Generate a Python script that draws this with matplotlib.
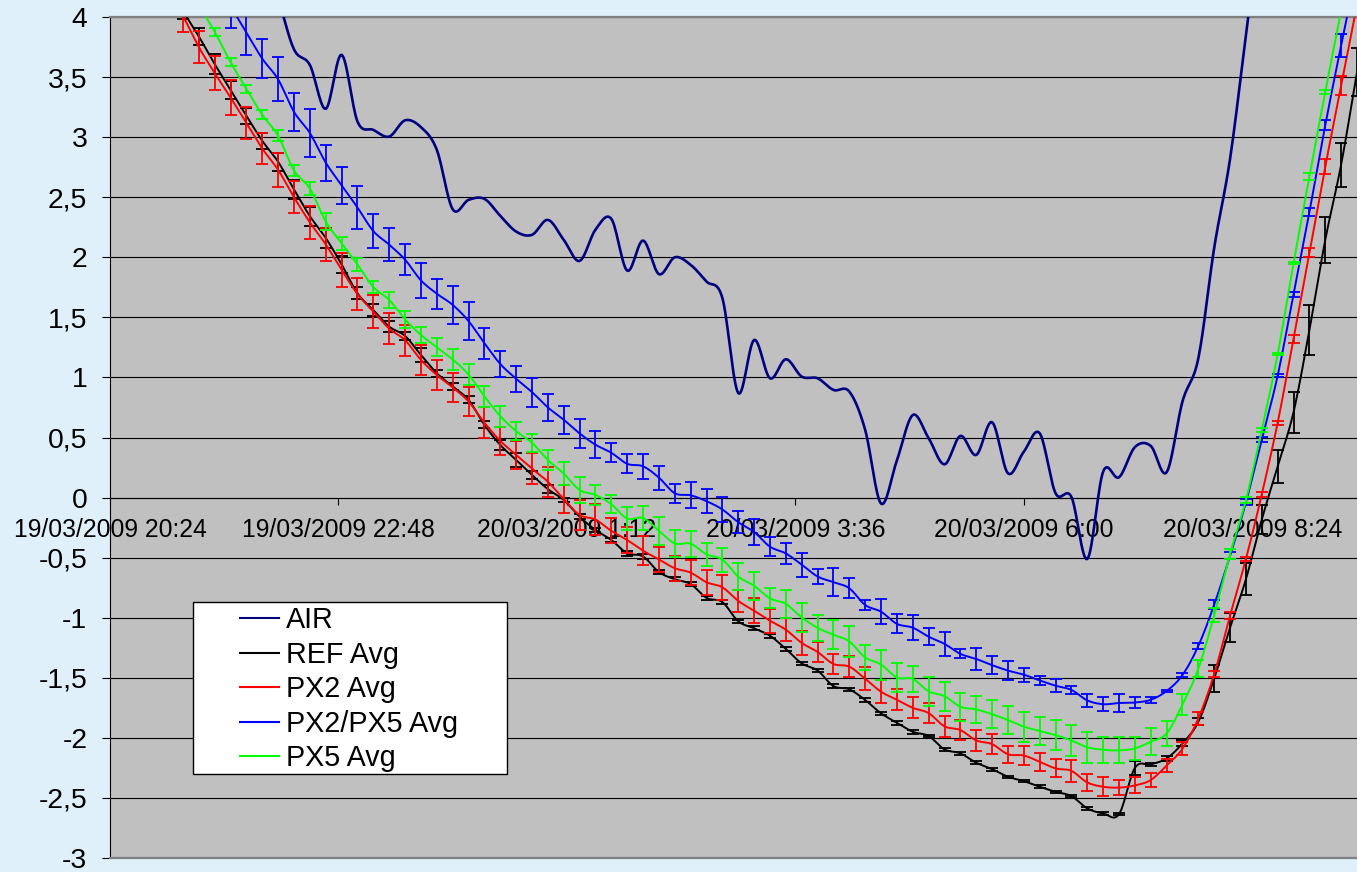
import numpy as np
import pandas as pd
import matplotlib
matplotlib.use("Agg")
import matplotlib.pyplot as plt
import matplotlib.dates as mdates
import matplotlib.ticker as ticker
from matplotlib.patches import Rectangle
from matplotlib.lines import Line2D

plt.rcParams['font.family'] = ['Liberation Sans', 'DejaVu Sans']

# 10-minute readings, 19/03/2009 21:10 onwards
times = pd.date_range("2009-03-19 21:10", periods=75, freq="10min")

nan = np.nan
air = [nan, nan, nan, nan, nan, 4.5, 4.15, 3.73, 3.60, 3.236,
       3.685, 3.13, 3.06, 3.005, 3.14, 3.083, 2.894, 2.40, 2.478, 2.486,
       2.345, 2.214, 2.187, 2.311, 2.145, 1.97, 2.23, 2.32, 1.889, 2.139,
       1.86, 2.0, 1.937, 1.798, 1.66, 0.87, 1.312, 0.993, 1.151, 1.007,
       0.993, 0.896, 0.882, 0.563, -0.05, 0.31, 0.687, 0.494, 0.277, 0.513,
       0.355, 0.627, 0.202, 0.382, 0.535, 0.036, 0.005, -0.511, 0.216, 0.169,
       0.42, 0.43, 0.211, 0.80, 1.16, 2.08, 2.82, 3.85, 4.9, nan,
       nan, nan, nan, nan, nan]

ref_avg = [4.05, 3.838, 3.608, 3.393, 3.177, 2.969, 2.794, 2.564, 2.342, 2.16,
           1.94, 1.70, 1.56, 1.423, 1.345, 1.187, 1.035, 0.924, 0.813, 0.605,
           0.438, 0.313, 0.188, 0.07, -0.02, -0.159, -0.27, -0.353, -0.464, -0.49,
           -0.62, -0.68, -0.72, -0.835, -0.87, -1.03, -1.088, -1.15, -1.26, -1.38,
           -1.44, -1.569, -1.596, -1.685, -1.796, -1.874, -1.949, -1.985, -2.096, -2.129,
           -2.207, -2.26, -2.324, -2.36, -2.407, -2.449, -2.485, -2.587, -2.629, -2.635,
           -2.25, -2.221, -2.171, -2.046, -1.866, -1.505, -1.082, -0.679, -0.182, 0.261,
           0.711, 1.395, 2.145, 2.772, 3.54]
ref_err = [0.07, 0.069, 0.083, 0.076, 0.069, 0.069, 0.074, 0.08, 0.08, 0.08,
           0.07, 0.05, 0.05, 0.044, 0.03, 0.062, 0.028, 0.03, 0.03, 0.03,
           0.04, 0.055, 0.03, 0.035, 0.02, 0.02, 0.02, 0.02, 0.02, 0.02,
           0.015, 0.015, 0.015, 0.015, 0.015, 0.015, 0.015, 0.015, 0.015, 0.015,
           0.015, 0.015, 0.01, 0.015, 0.015, 0.015, 0.015, 0.01, 0.015, 0.01,
           0.012, 0.012, 0.01, 0.01, 0.012, 0.01, 0.01, 0.012, 0.01, 0.01,
           0.06, 0.015, 0.02, 0.025, 0.03, 0.11, 0.118, 0.132, 0.118, 0.136,
           0.171, 0.208, 0.194, 0.183, 0.2]

px2_avg = [4.01, 3.75, 3.533, 3.33, 3.117, 2.905, 2.727, 2.50, 2.29, 2.107,
           1.895, 1.694, 1.548, 1.406, 1.31, 1.146, 1.02, 0.917, 0.80, 0.623,
           0.472, 0.355, 0.24, 0.132, -0.013, -0.145, -0.183, -0.277, -0.353, -0.442,
           -0.515, -0.588, -0.625, -0.705, -0.747, -0.86, -0.942, -1.025, -1.10, -1.21,
           -1.285, -1.385, -1.407, -1.508, -1.616, -1.683, -1.75, -1.794, -1.904, -1.935,
           -2.021, -2.052, -2.136, -2.147, -2.199, -2.254, -2.275, -2.371, -2.407, -2.414,
           -2.396, -2.351, -2.23, -2.09, -1.838, -1.469, -0.982, -0.511, 0.028, 0.623,
           1.322, 2.041, 2.755, 3.429, 4.1]
px2_err = [0.135, 0.136, 0.139, 0.142, 0.13, 0.128, 0.139, 0.132, 0.135, 0.135,
           0.139, 0.133, 0.137, 0.128, 0.129, 0.125, 0.128, 0.118, 0.124, 0.128,
           0.118, 0.115, 0.128, 0.125, 0.118, 0.125, 0.129, 0.104, 0.111, 0.118,
           0.104, 0.104, 0.104, 0.104, 0.104, 0.094, 0.104, 0.1, 0.097, 0.097,
           0.087, 0.083, 0.086, 0.094, 0.097, 0.086, 0.087, 0.086, 0.086, 0.083,
           0.086, 0.083, 0.071, 0.079, 0.075, 0.075, 0.09, 0.069, 0.078, 0.062,
           0.067, 0.061, 0.051, 0.053, 0.056, 0.028, 0.032, 0.014, 0.021, 0.018,
           0.032, 0.035, 0.061, 0.076, 0.08]

px2_px5_avg = [4.7, 4.5, 4.3, 4.09, 3.87, 3.653, 3.48, 3.21, 3.034, 2.788,
               2.6, 2.414, 2.218, 2.105, 1.98, 1.808, 1.697, 1.604, 1.469, 1.285,
               1.112, 0.989, 0.878, 0.75, 0.648, 0.534, 0.44, 0.373, 0.281, 0.26,
               0.166, 0.036, 0.019, -0.03, -0.099, -0.205, -0.286, -0.409, -0.465, -0.558,
               -0.657, -0.704, -0.755, -0.894, -0.95, -1.051, -1.083, -1.158, -1.218, -1.301,
               -1.343, -1.395, -1.44, -1.474, -1.522, -1.566, -1.601, -1.688, -1.72, -1.71,
               -1.706, -1.683, -1.61, -1.477, -1.234, -0.891, -0.484, -0.038, 0.486, 1.015,
               1.694, 2.377, 3.1, 3.764, 4.4]
px2_px5_err = [0.18, 0.18, 0.18, 0.18, 0.19, 0.162, 0.183, 0.155, 0.2, 0.149,
               0.155, 0.18, 0.143, 0.135, 0.129, 0.146, 0.125, 0.158, 0.157, 0.13,
               0.111, 0.107, 0.121, 0.112, 0.118, 0.118, 0.112, 0.079, 0.079, 0.103,
               0.1, 0.078, 0.108, 0.101, 0.101, 0.093, 0.108, 0.078, 0.09, 0.1,
               0.062, 0.115, 0.083, 0.042, 0.103, 0.079, 0.104, 0.069, 0.101, 0.037,
               0.093, 0.076, 0.079, 0.058, 0.039, 0.056, 0.035, 0.053, 0.057, 0.072,
               0.043, 0.025, 0.01, 0.014, 0.026, 0.039, 0.028, 0.024, 0.021, 0.014,
               0.021, 0.032, 0.039, 0.093, 0.1]

px5_avg = [4.35, 4.1, 3.877, 3.624, 3.402, 3.186, 3.01, 2.722, 2.572, 2.298,
           2.117, 1.94, 1.752, 1.645, 1.483, 1.354, 1.251, 1.15, 1.024, 0.843,
           0.678, 0.553, 0.456, 0.313, 0.2, 0.063, 0.022, -0.055, -0.175, -0.17,
           -0.277, -0.381, -0.384, -0.472, -0.517, -0.658, -0.734, -0.839, -0.885, -0.998,
           -1.085, -1.142, -1.198, -1.33, -1.39, -1.498, -1.509, -1.613, -1.653, -1.741,
           -1.763, -1.803, -1.852, -1.907, -1.942, -1.977, -2.022, -2.078, -2.099, -2.104,
           -2.088, -2.032, -1.963, -1.723, -1.424, -0.978, -0.47, -0.02, 0.563, 1.194,
           1.951, 2.672, 3.377, 4.05, 4.7]
px5_err = [0.03, 0.03, 0.032, 0.035, 0.035, 0.036, 0.046, 0.049, 0.051, 0.069,
           0.056, 0.05, 0.049, 0.069, 0.068, 0.069, 0.076, 0.09, 0.086, 0.086,
           0.087, 0.074, 0.074, 0.083, 0.093, 0.111, 0.083, 0.076, 0.094, 0.097,
           0.118, 0.111, 0.108, 0.097, 0.1, 0.111, 0.118, 0.083, 0.115, 0.118,
           0.107, 0.119, 0.125, 0.107, 0.125, 0.118, 0.107, 0.122, 0.121, 0.117,
           0.111, 0.118, 0.117, 0.125, 0.118, 0.125, 0.129, 0.129, 0.108, 0.108,
           0.097, 0.111, 0.105, 0.088, 0.072, 0.056, 0.039, 0.022, 0.014, 0.01,
           0.01, 0.028, 0.017, 0.02, 0.02]

tick_times = pd.date_range("2009-03-19 20:24", periods=6, freq="144min")
x_start = pd.Timestamp("2009-03-19 20:24")
x_end = pd.Timestamp("2009-03-20 09:30")

BG = "#dff0fb"
PLOT_BG = "#c0c0c0"


def smooth_line(x, y, steps=16):
    """Bezier smoothing through the points, control points from the neighbours."""
    x = np.asarray(x, float)
    y = np.asarray(y, float)
    ok = np.isfinite(y)
    x, y = x[ok], y[ok]
    n = len(x)
    t = np.linspace(0, 1, steps, endpoint=False)
    a, b, c, d = (1 - t) ** 3, 3 * (1 - t) ** 2 * t, 3 * (1 - t) * t ** 2, t ** 3
    xs, ys = [], []
    for i in range(n - 1):
        i0 = max(i - 1, 0)
        i3 = min(i + 2, n - 1)
        c1x = x[i] + (x[i + 1] - x[i0]) / 6
        c1y = y[i] + (y[i + 1] - y[i0]) / 6
        c2x = x[i + 1] - (x[i3] - x[i]) / 6
        c2y = y[i + 1] - (y[i3] - y[i]) / 6
        xs.append(a * x[i] + b * c1x + c * c2x + d * x[i + 1])
        ys.append(a * y[i] + b * c1y + c * c2y + d * y[i + 1])
    xs.append([x[-1]])
    ys.append([y[-1]])
    return np.concatenate(xs), np.concatenate(ys)


fig = plt.figure(figsize=(13.57, 8.72), dpi=100, facecolor=BG)
ax = fig.add_axes([110 / 1357, 14 / 872, 1247 / 1357, 841 / 872])
ax.set_facecolor(PLOT_BG)

xnum = mdates.date2num(times)

series = [
    ("AIR", air, None, "#000080", 1.9),
    ("REF Avg", ref_avg, ref_err, "#000000", 1.4),
    ("PX2 Avg", px2_avg, px2_err, "#ff0000", 1.4),
    ("PX2/PX5 Avg", px2_px5_avg, px2_px5_err, "#0000ff", 1.4),
    ("PX5 Avg", px5_avg, px5_err, "#00ff00", 1.4),
]

handles = []
for i, (name, vals, err, color, lw) in enumerate(series):
    z = 3 + i * 0.1
    sx, sy = smooth_line(xnum, vals)
    ax.plot(sx, sy, color=color, lw=lw, zorder=z)
    if err is not None:
        ax.errorbar(xnum, vals, yerr=err, fmt="none", ecolor=color,
                    elinewidth=1.3, capsize=4.3, capthick=1.3, zorder=z)
    handles.append(Line2D([], [], color=color, lw=1.5))

ax.set_xlim(mdates.date2num(x_start), mdates.date2num(x_end))
ax.set_ylim(-3, 4)

# y axis: comma decimals, gridline every 0.5
ax.set_yticks(np.arange(-3, 4.01, 0.5))
ax.yaxis.set_major_formatter(
    ticker.FuncFormatter(lambda v, p: f"{v:g}".replace(".", ",")))
ax.yaxis.grid(True, color="black", lw=0.8)
ax.set_axisbelow(True)
ax.tick_params(axis="y", direction="out", length=5.8, width=0.8,
               labelsize=20.4, pad=10.5, colors="black")

# x axis crosses at zero
ax.spines["bottom"].set_position(("data", 0))
ax.spines["bottom"].set_color("black")
ax.spines["bottom"].set_linewidth(0.8)
ax.set_xticks(mdates.date2num(tick_times))
ax.set_xticklabels([f"{t:%d/%m/%Y} {t.hour}:{t:%M}" for t in tick_times])
ax.tick_params(axis="x", direction="out", length=5, width=0.8,
               labelsize=17.8, pad=10)

ax.spines["left"].set_color("black")
ax.spines["left"].set_linewidth(0.8)
ax.spines["top"].set_color("#808080")
ax.spines["top"].set_linewidth(1.6)
ax.spines["right"].set_visible(False)
ax.axhline(-3, color="#808080", lw=1.6, clip_on=False, zorder=6)

# legend box
fig.patches.append(Rectangle((193 / 1357, 1 - 774 / 872), 314 / 1357, 172 / 872,
                             transform=fig.transFigure, facecolor="white",
                             edgecolor="black", lw=1.0, zorder=4))
fig.legend(handles, [s[0] for s in series], loc="upper left",
           bbox_to_anchor=(240 / 1357, 1 - 606 / 872), frameon=False,
           borderpad=0, borderaxespad=0, handlelength=1.36, handletextpad=0.24,
           labelspacing=0.23, fontsize=20.7)

fig.savefig("out.png", dpi=100, facecolor=BG)
